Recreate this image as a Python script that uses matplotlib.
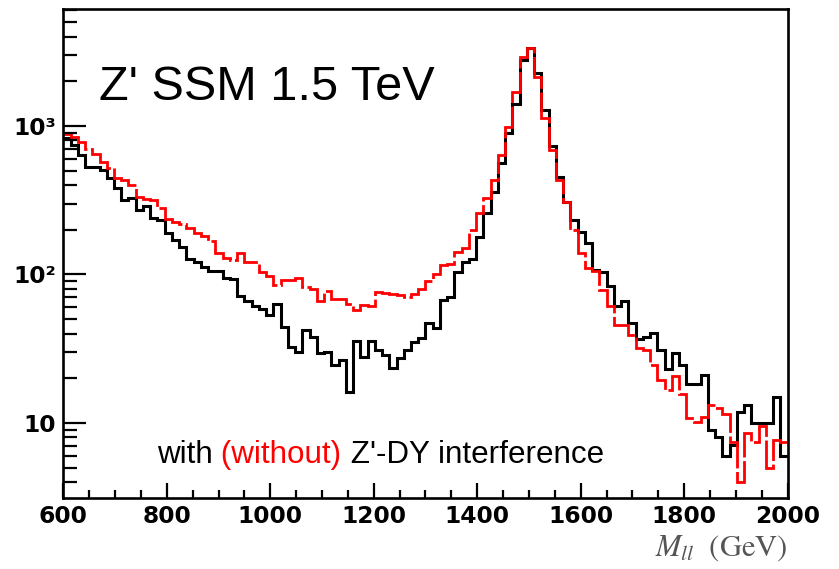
import numpy as np
import matplotlib
matplotlib.use('Agg')
import matplotlib.pyplot as plt
from matplotlib.ticker import FixedLocator, MultipleLocator, NullFormatter

# Datos: 100 bins de 14 GeV entre 600 y 2000 GeV
edges = np.linspace(600, 2000, 101)

# con interferencia (negro)
black = [
    830, 745, 640, 530, 530, 505, 445, 380, 318, 326,
    272, 287, 239, 233, 190, 171, 154, 128, 121, 112,
    106, 105, 95, 93, 72, 66, 61, 58.6, 53.5, 63,
    44, 32.6, 30, 42, 38, 29.8, 30, 24.5, 26.6, 16.2,
    35.8, 28, 35.8, 31, 28.6, 23.3, 27.4, 31, 35, 37.2,
    47, 43.5, 67, 71, 104, 122, 128, 180, 260, 360,
    561, 893, 1400, 2780, 3330, 2260, 1280, 733, 450, 309,
    233, 194, 162, 107, 104, 84, 61, 66, 47, 37,
    38, 40.6, 31, 23.2, 29.6, 24.5, 18.4, 18.4, 21.1, 9.0,
    8.1, 6.0, 7.1, 11.9, 13.3, 10, 10, 10, 15, 6.0,
]

# sin interferencia (rojo)
red = [
    880, 847, 784, 700, 650, 575, 519, 445, 430, 400,
    330, 320, 315, 280, 235, 225, 218, 205, 190, 182,
    168, 140, 130, 125, 140, 122, 121, 104, 98, 85,
    92, 92, 95, 82, 80, 66, 77, 68, 68, 63,
    57.5, 62, 61, 75.6, 75, 74, 73, 70, 74, 80,
    90, 101, 116, 118, 141, 150, 200, 260, 326, 430,
    640, 990, 1700, 2930, 3330, 2150, 1130, 690, 432, 309,
    200, 140, 110, 105, 79, 61, 46, 46, 39, 32,
    31, 24.5, 19.5, 16.7, 20.7, 15.6, 10.8, 10.2, 11, 13.3,
    12.6, 11.5, 7.5, 4.0, 8.6, 7.5, 9.5, 5.0, 7.7, 7.4,
]

x_ticks = [600, 800, 1000, 1200, 1400, 1600, 1800, 2000]
y_ticks = [10, 100, 1000]
y_labels = ['10', '10²', '10³']

plt.rcParams['mathtext.fontset'] = 'stix'

fig = plt.figure(figsize=(8.39, 5.69), dpi=100)
ax = fig.add_axes([0.07545, 0.12425, 0.8634, 0.8594])

ax.stairs(black, edges, baseline=None, color='black', linewidth=2.2)
ax.stairs(red, edges, baseline=None, color='#ff0000', linewidth=2.0,
          linestyle=(0, (14, 1.3)))

ax.set_yscale('log')
ax.set_xlim(600, 2000)
ax.set_ylim(3.11, 6100)

# ejes
for s in ax.spines.values():
    s.set_linewidth(1.9)

ax.xaxis.set_major_locator(FixedLocator(x_ticks))
ax.xaxis.set_minor_locator(MultipleLocator(50))
ax.set_xticklabels([str(v) for v in x_ticks])
ax.yaxis.set_major_locator(FixedLocator(y_ticks))
ax.set_yticklabels(y_labels)
ax.yaxis.set_minor_locator(FixedLocator(
    [m * d for d in (1, 10, 100, 1000) for m in range(2, 10)]))
ax.yaxis.set_minor_formatter(NullFormatter())

ax.tick_params(which='both', direction='in', top=False, right=False, width=1.6)
ax.tick_params(axis='y', which='major', length=16.5, pad=5)
ax.tick_params(axis='y', which='minor', length=10)
ax.tick_params(axis='x', which='major', length=11, pad=5)
ax.tick_params(axis='x', which='minor', length=6)
for lab in ax.get_xticklabels() + ax.get_yticklabels():
    lab.set_fontsize(16.8)
    lab.set_fontweight('bold')
    lab.set_fontfamily('DejaVu Sans')

# textos
ax.text(0.0497, 0.8145, "Z' SSM 1.5 TeV", transform=ax.transAxes,
        fontsize=35, family='Liberation Sans', ha='left', va='baseline')

t1 = ax.text(0.129, 0.0728, "with", transform=ax.transAxes, fontsize=22.6,
             family='Liberation Sans', ha='left', va='baseline')
t2 = ax.annotate(" (without)", xy=(1, 0), xycoords=t1, fontsize=22.6,
                 family='Liberation Sans', color='#ff0000', va='bottom')
ax.annotate(" Z'-DY interference", xy=(1, 0), xycoords=t2, fontsize=22.6,
            family='Liberation Sans', va='bottom')

ax.text(1.0, -0.118, r"$M_{ll}\ \ \mathrm{(GeV)}$", transform=ax.transAxes,
        fontsize=22, ha='right', va='baseline', color='#555555')

fig.savefig('out.png', dpi=100)
